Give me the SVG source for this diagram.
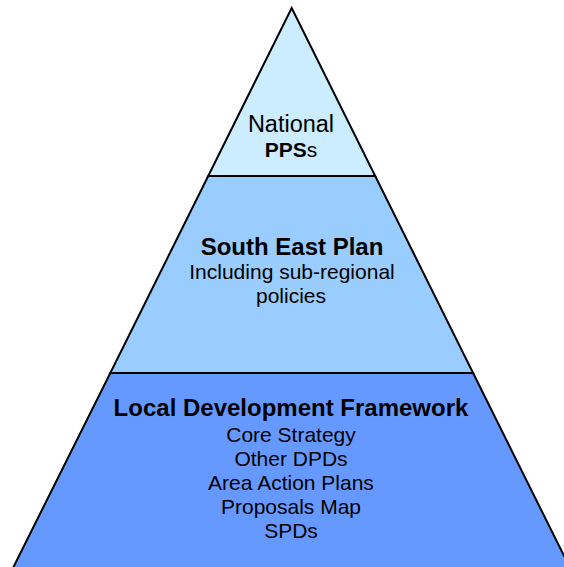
<svg xmlns="http://www.w3.org/2000/svg" width="564" height="567" viewBox="0 0 564 567">
<style>
.lvl{stroke:#000;stroke-width:2;stroke-linejoin:miter}
text{font-family:"Liberation Sans",Arial,sans-serif;text-anchor:middle;fill:#000}
.t{font-size:21px}
.b{font-size:24px;font-weight:bold}
</style>
<rect width="564" height="567" fill="#fff"/>
<g id="level-national">
<polygon class="lvl" fill="#CCECFF" points="291.7,8 208.2,176 375.2,176"/>
<text x="291" y="132" font-size="23.5">National</text>
<text class="t" x="291" y="157"><tspan font-weight="bold">PPS</tspan>s</text>
</g>
<g id="level-southeast">
<polygon class="lvl" fill="#99CCFF" points="208.2,176 375.2,176 473.1,373 110.3,373"/>
<text class="b" x="292" y="255">South East Plan</text>
<text class="t" x="292" y="279">Including sub-regional</text>
<text class="t" x="291" y="303">policies</text>
</g>
<g id="level-ldf">
<polygon class="lvl" fill="#6699FF" points="110.3,373 473.1,373 581,590 2,590"/>
<text class="b" x="291" y="416">Local Development Framework</text>
<text class="t" x="291" y="442">Core Strategy</text>
<text class="t" x="291" y="466">Other DPDs</text>
<text class="t" x="291" y="490">Area Action Plans</text>
<text class="t" x="291" y="514">Proposals Map</text>
<text class="t" x="291" y="538">SPDs</text>
</g>
<g id="connectors"></g>
</svg>
